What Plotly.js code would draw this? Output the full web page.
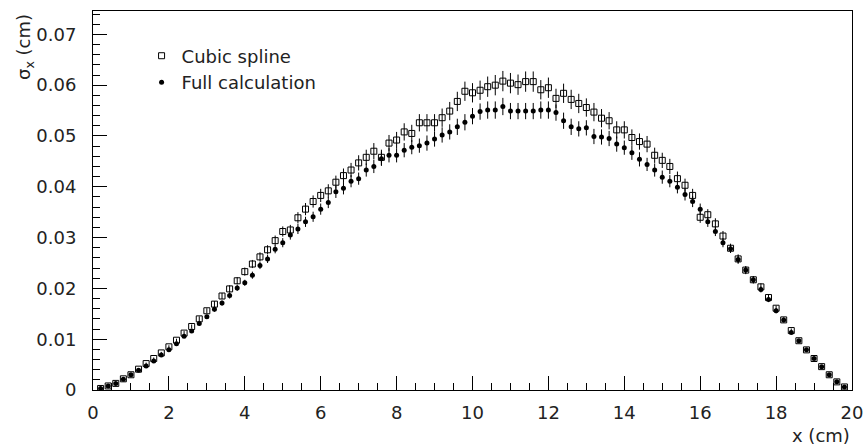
<!DOCTYPE html>
<html>
<head>
<meta charset="utf-8">
<script src="https://cdn.plot.ly/plotly-3.0.1.min.js"></script>
<style>
html,body{margin:0;padding:0;background:#fff;}
#chart{width:866px;height:446px;}
</style>
</head>
<body>
<div id="chart"></div>
<script>
var xPos = [0.2,0.4,0.6,0.8,1.0,1.2,1.4,1.6,1.8,2.0,2.2,2.4,2.6,2.8,3.0,3.2,3.4,3.6,3.8,4.0,
  4.2,4.4,4.6,4.8,5.0,5.2,5.4,5.6,5.8,6.0,6.2,6.4,6.6,6.8,7.0,7.2,7.4,7.6,7.8,8.0,
  8.2,8.4,8.6,8.8,9.0,9.2,9.4,9.6,9.8,10.0,10.2,10.4,10.6,10.8,11.0,11.2,11.4,11.6,11.8,12.0,
  12.2,12.4,12.6,12.8,13.0,13.2,13.4,13.6,13.8,14.0,14.2,14.4,14.6,14.8,15.0,15.2,15.4,15.6,15.8,16.0,
  16.2,16.4,16.6,16.8,17.0,17.2,17.4,17.6,17.8,18.0,18.2,18.4,18.6,18.8,19.0,19.2,19.4,19.6,19.8];

var splineSigma = [0.0003,0.0008,0.0013,0.0022,0.0030,0.0041,0.0052,0.0062,0.0073,0.0085,
  0.0098,0.0112,0.0125,0.0140,0.0156,0.0169,0.0185,0.0199,0.0215,0.0233,
  0.0248,0.0262,0.0276,0.0294,0.0312,0.0315,0.0339,0.0356,0.0371,0.0383,
  0.0392,0.0409,0.0422,0.0433,0.0447,0.0458,0.0470,0.0458,0.0486,0.0492,
  0.0508,0.0505,0.0526,0.0526,0.0526,0.0536,0.0549,0.0568,0.0588,0.0585,
  0.0590,0.0597,0.0600,0.0608,0.0604,0.0601,0.0607,0.0607,0.0591,0.0595,
  0.0574,0.0584,0.0572,0.0564,0.0556,0.0547,0.0535,0.0530,0.0512,0.0512,
  0.0497,0.0489,0.0484,0.0462,0.0452,0.0440,0.0416,0.0403,0.0383,0.0340,
  0.0345,0.0327,0.0303,0.0279,0.0258,0.0236,0.0217,0.0203,0.0182,0.0161,
  0.0138,0.0117,0.0097,0.0079,0.0062,0.0046,0.0030,0.0016,0.0006];

var splineErr = [0.0000,0.0000,0.0000,0.0001,0.0001,
  0.0001,0.0002,0.0002,0.0002,0.0003,0.0003,0.0004,0.0004,0.0005,0.0005,
  0.0006,0.0006,0.0007,0.0007,0.0008,0.0008,0.0009,0.0009,0.0010,0.0010,
  0.0010,0.0011,0.0012,0.0012,0.0013,0.0013,0.0013,0.0014,0.0014,0.0015,
  0.0015,0.0016,0.0015,0.0016,0.0016,0.0017,0.0017,0.0017,0.0017,0.0017,
  0.0018,0.0018,0.0019,0.0019,0.0019,0.0019,0.0020,0.0020,0.0020,0.0020,
  0.0020,0.0020,0.0020,0.0019,0.0020,0.0019,0.0019,0.0019,0.0019,0.0018,
  0.0018,0.0018,0.0017,0.0017,0.0017,0.0016,0.0016,0.0016,0.0015,0.0015,
  0.0015,0.0014,0.0013,0.0013,0.0011,0.0011,0.0011,0.0010,0.0009,0.0009,
  0.0008,0.0007,0.0007,0.0006,0.0005,0.0005,0.0004,0.0003,0.0003,0.0002,
  0.0002,0.0001,0.0001,0.0000];

var fullSigma = [0.0003,0.0008,0.0013,0.0021,0.0030,0.0039,0.0047,0.0057,0.0069,0.0079,
  0.0091,0.0106,0.0116,0.0131,0.0144,0.0159,0.0171,0.0186,0.0201,0.0211,
  0.0226,0.0245,0.0258,0.0277,0.0290,0.0305,0.0317,0.0331,0.0341,0.0356,
  0.0369,0.0390,0.0397,0.0411,0.0416,0.0433,0.0440,0.0455,0.0462,0.0462,
  0.0472,0.0478,0.0481,0.0486,0.0494,0.0502,0.0508,0.0518,0.0527,0.0539,
  0.0548,0.0551,0.0551,0.0558,0.0549,0.0549,0.0549,0.0549,0.0551,0.0551,
  0.0546,0.0530,0.0518,0.0514,0.0516,0.0499,0.0498,0.0495,0.0484,0.0477,
  0.0467,0.0454,0.0444,0.0433,0.0419,0.0411,0.0399,0.0385,0.0371,0.0356,
  0.0331,0.0312,0.0290,0.0278,0.0257,0.0236,0.0217,0.0198,0.0178,0.0156,
  0.0138,0.0113,0.0097,0.0079,0.0062,0.0046,0.0030,0.0016,0.0006];

var fullErr = [0.0000,0.0000,0.0000,0.0001,0.0001,
  0.0001,0.0001,0.0002,0.0002,0.0002,0.0003,0.0003,0.0003,0.0004,0.0004,
  0.0005,0.0005,0.0006,0.0006,0.0006,0.0007,0.0007,0.0008,0.0008,0.0009,
  0.0009,0.0010,0.0010,0.0010,0.0011,0.0011,0.0012,0.0012,0.0012,0.0012,
  0.0013,0.0013,0.0014,0.0014,0.0014,0.0014,0.0014,0.0014,0.0015,0.0015,
  0.0015,0.0015,0.0016,0.0016,0.0016,0.0016,0.0017,0.0017,0.0017,0.0016,
  0.0016,0.0016,0.0016,0.0017,0.0017,0.0016,0.0016,0.0016,0.0015,0.0015,
  0.0015,0.0015,0.0015,0.0015,0.0014,0.0014,0.0014,0.0013,0.0013,0.0013,
  0.0012,0.0012,0.0012,0.0011,0.0011,0.0010,0.0009,0.0009,0.0008,0.0008,
  0.0007,0.0007,0.0006,0.0005,0.0005,0.0004,0.0003,0.0003,0.0002,0.0002,
  0.0001,0.0001,0.0000,0.0000];

var seriesNames = ['Cubic spline', 'Full calculation'];
var xTickVals = [0,2,4,6,8,10,12,14,16,18,20];
var xTickText = ['0','2','4','6','8','10','12','14','16','18','20'];
var yTickVals = [0,0.01,0.02,0.03,0.04,0.05,0.06,0.07];
var yTickText = ['0','0.01','0.02','0.03','0.04','0.05','0.06','0.07'];

var FONT = '"DejaVu Sans", sans-serif';
var TXT = '#222';

var traces = [
  {
    x: xPos, y: splineSigma, name: seriesNames[0], type: 'scatter', mode: 'markers',
    marker: {symbol: 'square-open', size: 6, color: '#000', line: {width: 1, color: '#000'}},
    error_y: {type: 'data', array: splineErr, visible: true, color: '#000', thickness: 1, width: 0}
  },
  {
    x: xPos, y: fullSigma, name: seriesNames[1], type: 'scatter', mode: 'markers',
    marker: {symbol: 'circle', size: 5, color: '#000', line: {width: 0}},
    error_y: {type: 'data', array: fullErr, visible: true, color: '#000', thickness: 1, width: 0}
  }
];

var layout = {
  width: 866, height: 446,
  margin: {l: 93, r: 14, t: 11, b: 56},
  paper_bgcolor: '#fff', plot_bgcolor: '#fff',
  font: {family: FONT, size: 18, color: TXT},
  showlegend: true,
  legend: {
    x: 0.064, y: 0.93, xanchor: 'left', yanchor: 'top',
    bgcolor: 'rgba(0,0,0,0)', borderwidth: 0,
    font: {family: FONT, size: 18, color: TXT},
    tracegroupgap: 0, itemwidth: 30
  },
  xaxis: {
    range: [0, 20], showgrid: false, zeroline: false,
    showline: true, linecolor: '#000', linewidth: 1, mirror: true,
    tickmode: 'array', tickvals: xTickVals, ticktext: xTickText,
    ticks: 'inside', ticklen: 14, tickwidth: 1, tickcolor: '#000',
    ticklabelstandoff: 6,
    tickfont: {family: FONT, size: 18, color: TXT},
    minor: {dtick: 0.5, tick0: 0, ticks: 'inside', ticklen: 7, tickwidth: 1, tickcolor: '#000', showgrid: false}
  },
  yaxis: {
    range: [0, 0.0746], showgrid: false, zeroline: false,
    showline: true, linecolor: '#000', linewidth: 1, mirror: true,
    tickmode: 'array', tickvals: yTickVals, ticktext: yTickText,
    ticks: 'inside', ticklen: 14, tickwidth: 1, tickcolor: '#000',
    ticklabelstandoff: 12,
    tickfont: {family: FONT, size: 18, color: TXT},
    minor: {dtick: 0.002, tick0: 0, ticks: 'inside', ticklen: 7, tickwidth: 1, tickcolor: '#000', showgrid: false}
  },
  annotations: [
    {
      text: 'σ<sub>x</sub> (cm)', textangle: -90,
      xref: 'paper', yref: 'paper', x: -0.0896, y: 0.905,
      xanchor: 'center', yanchor: 'middle', showarrow: false,
      font: {family: FONT, size: 18, color: TXT}
    },
    {
      text: 'x (cm)',
      xref: 'paper', yref: 'paper', x: 1, y: -0.121,
      xanchor: 'right', yanchor: 'middle', showarrow: false,
      font: {family: FONT, size: 18, color: TXT}
    }
  ]
};

Plotly.newPlot('chart', traces, layout, {staticPlot: true, displayModeBar: false});
</script>
</body>
</html>
